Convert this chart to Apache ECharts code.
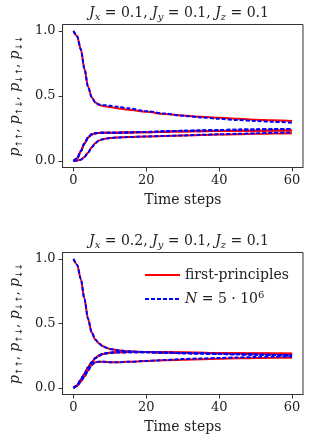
<!DOCTYPE html>
<html>
<head>
<meta charset="utf-8">
<script src="https://cdn.jsdelivr.net/npm/echarts@6/dist/echarts.min.js"></script>
<style>
html,body{margin:0;padding:0;background:#fff;}
#chart{width:311px;height:445px;}
</style>
</head>
<body>
<div id="chart"></div>
<script>
// ---- data ----
var times = [0,1,2,3,4,5,6,7,8,9,10,12,15,20,25,30,35,40,45,50,55,60];
var xTicks = [0,20,40,60];
var yTicks = [0,0.5,1.0];

// Panel 1: Jx=0.1, Jy=0.1, Jz=0.1
var p1_uu_fp  = [1.0,0.96,0.86,0.71,0.57,0.49,0.45,0.432,0.424,0.419,0.415,0.406,0.395,0.378,0.362,0.35,0.34,0.332,0.325,0.318,0.313,0.308];
var p1_ud_fp  = [0,0.02,0.075,0.135,0.18,0.205,0.213,0.216,0.217,0.217,0.217,0.218,0.22,0.222,0.225,0.227,0.229,0.231,0.232,0.233,0.234,0.235];
var p1_du_fp  = [0,0.02,0.075,0.135,0.18,0.205,0.213,0.216,0.217,0.217,0.217,0.218,0.22,0.222,0.225,0.227,0.229,0.231,0.232,0.233,0.234,0.235];
var p1_dd_fp  = [0,0.003,0.01,0.03,0.065,0.105,0.138,0.157,0.167,0.173,0.176,0.18,0.184,0.188,0.192,0.196,0.2,0.203,0.206,0.209,0.212,0.214];
var p1_uu_n   = [1.0,0.96,0.86,0.71,0.57,0.49,0.45,0.435,0.43,0.428,0.425,0.418,0.405,0.383,0.365,0.348,0.335,0.325,0.315,0.308,0.301,0.295];
var p1_ud_n   = [0,0.02,0.075,0.135,0.18,0.205,0.213,0.216,0.217,0.217,0.217,0.218,0.22,0.223,0.228,0.232,0.235,0.238,0.241,0.243,0.245,0.247];
var p1_du_n   = [0,0.02,0.075,0.135,0.18,0.205,0.213,0.216,0.217,0.217,0.217,0.218,0.22,0.223,0.228,0.232,0.235,0.238,0.241,0.243,0.245,0.247];
var p1_dd_n   = [0,0.003,0.01,0.03,0.065,0.105,0.138,0.157,0.167,0.173,0.176,0.18,0.184,0.189,0.193,0.197,0.201,0.205,0.209,0.213,0.217,0.22];

// Panel 2: Jx=0.2, Jy=0.1, Jz=0.1
var p2_uu_fp  = [1.0,0.955,0.845,0.69,0.535,0.43,0.375,0.345,0.325,0.312,0.303,0.293,0.285,0.279,0.276,0.274,0.272,0.27,0.269,0.268,0.267,0.266];
var p2_ud_fp  = [0,0.02,0.065,0.11,0.16,0.2,0.232,0.252,0.263,0.27,0.274,0.277,0.279,0.279,0.277,0.275,0.273,0.271,0.269,0.268,0.266,0.265];
var p2_du_fp  = [0,0.02,0.065,0.11,0.16,0.2,0.232,0.252,0.263,0.27,0.274,0.277,0.279,0.279,0.277,0.275,0.273,0.271,0.269,0.268,0.266,0.265];
var p2_dd_fp  = [0,0.015,0.05,0.09,0.135,0.18,0.2,0.204,0.204,0.202,0.2,0.2,0.203,0.21,0.216,0.22,0.224,0.227,0.23,0.232,0.234,0.235];
var p2_uu_n   = [1.0,0.955,0.845,0.69,0.535,0.43,0.375,0.345,0.325,0.312,0.303,0.293,0.285,0.279,0.275,0.272,0.269,0.266,0.263,0.26,0.257,0.255];
var p2_ud_n   = [0,0.02,0.065,0.11,0.16,0.2,0.232,0.252,0.263,0.27,0.274,0.277,0.278,0.277,0.274,0.27,0.267,0.264,0.261,0.259,0.256,0.252];
var p2_du_n   = [0,0.02,0.065,0.11,0.16,0.2,0.232,0.252,0.263,0.27,0.274,0.277,0.278,0.277,0.274,0.27,0.267,0.264,0.261,0.259,0.256,0.252];
var p2_dd_n   = [0,0.015,0.05,0.09,0.135,0.18,0.2,0.204,0.204,0.202,0.2,0.2,0.203,0.21,0.217,0.225,0.229,0.233,0.237,0.24,0.243,0.245];

var titles = [
  '{j|J}{s|x}{n| = 0.1, }{j|J}{s|y}{n| = 0.1, }{j|J}{s|z}{n| = 0.1}',
  '{j|J}{s|x}{n| = 0.2, }{j|J}{s|y}{n| = 0.1, }{j|J}{s|z}{n| = 0.1}'
];
var nameFP = 'first-principles';
var nameN = 'N = 5·10^6';

// ---- chart ----
var FONT = 'DejaVu Serif';
var chart = echarts.init(document.getElementById('chart'), null, {renderer:'canvas'});

function zip(vals){ return times.map(function(t,i){ return [t, vals[i]]; }); }

var richMath = {
  j: {fontFamily: FONT, fontStyle: 'italic', fontSize: 14, lineHeight: 18, color: '#222'},
  s: {fontFamily: FONT, fontStyle: 'italic', fontSize: 10, lineHeight: 10, verticalAlign: 'bottom', color: '#222'},
  n: {fontFamily: FONT, fontSize: 14, lineHeight: 18, color: '#222'}
};
var richY = {
  p: {fontFamily: FONT, fontStyle: 'italic', fontSize: 14, lineHeight: 18, color: '#222'},
  a: {fontFamily: 'DejaVu Sans', fontSize: 9, lineHeight: 10, verticalAlign: 'bottom', color: '#222'},
  c: {fontFamily: FONT, fontSize: 13, lineHeight: 18, color: '#222'}
};
var yName = '{p|p}{a|↑↑}{c|, }{p|p}{a|↑↓}{c|, }{p|p}{a|↓↑}{c|, }{p|p}{a|↓↓}';

var grids = [
  {left: 55, right: 8, top: 24.5, height: 143},
  {left: 55, right: 8, top: 252.5, height: 142}
];

var xAxes = [], yAxes = [], series = [], titleArr = [];
var panels = [
  {fp: [p1_uu_fp, p1_ud_fp, p1_du_fp, p1_dd_fp], n: [p1_uu_n, p1_ud_n, p1_du_n, p1_dd_n]},
  {fp: [p2_uu_fp, p2_ud_fp, p2_du_fp, p2_dd_fp], n: [p2_uu_n, p2_ud_n, p2_du_n, p2_dd_n]}
];

grids.forEach(function(g, gi){
  g.show = true; g.borderColor = '#333'; g.borderWidth = 1; g.backgroundColor = 'transparent';
  g.containLabel = false;
  titleArr.push({
    text: titles[gi], left: 179, top: gi === 0 ? 4 : 232, textAlign: 'center', padding: 0,
    textStyle: {rich: richMath, fontFamily: FONT, fontSize: 14, fontWeight: 'normal'}
  });
  xAxes.push({
    type: 'value', gridIndex: gi, min: -3, max: 63,
    name: 'Time steps', nameLocation: 'middle', nameGap: 26,
    nameTextStyle: {fontFamily: FONT, fontSize: 14, color: '#222'},
    axisLine: {show: true, onZero: false, lineStyle: {color: '#333', width: 1}},
    axisTick: {show: true, inside: false, length: 4, customValues: xTicks, lineStyle: {color: '#333'}},
    axisLabel: {customValues: xTicks, margin: 7, fontFamily: FONT, fontSize: 13, color: '#222'},
    splitLine: {show: false}
  });
  yAxes.push({
    type: 'value', gridIndex: gi, min: -0.05, max: 1.05,
    name: yName, nameLocation: 'middle', nameGap: 30, nameRotate: 90,
    nameTextStyle: {rich: richY},
    axisLine: {show: true, onZero: false, lineStyle: {color: '#333', width: 1}},
    axisTick: {show: true, inside: false, length: 4, customValues: yTicks, lineStyle: {color: '#333'}},
    axisLabel: {customValues: yTicks, margin: 7, fontFamily: FONT, fontSize: 13, color: '#222',
      formatter: function(v){ return v.toFixed(1); }},
    splitLine: {show: false}
  });
  panels[gi].fp.forEach(function(arr){
    series.push({
      type: 'line', name: nameFP, xAxisIndex: gi, yAxisIndex: gi, data: zip(arr),
      showSymbol: false, symbol: 'none', smooth: 0.3, smoothMonotone: 'x',
      lineStyle: {color: '#ff0000', width: 2}, itemStyle: {color: '#ff0000'}, z: 2
    });
  });
  panels[gi].n.forEach(function(arr){
    series.push({
      type: 'line', name: nameN, xAxisIndex: gi, yAxisIndex: gi, data: zip(arr),
      showSymbol: false, symbol: 'none', smooth: 0.3, smoothMonotone: 'x',
      lineStyle: {color: '#0000ff', width: 2, type: [4, 2]}, itemStyle: {color: '#0000ff'}, z: 3
    });
  });
});

chart.setOption({
  animation: false,
  backgroundColor: '#fff',
  title: titleArr,
  grid: grids,
  xAxis: xAxes,
  yAxis: yAxes,
  legend: {
    show: true,
    data: [nameFP, nameN], orient: 'vertical', left: 139, top: 263,
    itemWidth: 35, itemHeight: 14, itemGap: 8, selectedMode: false,
    itemStyle: {opacity: 0},
    formatter: function(name){
      return name === nameFP ? '{n|first-principles}' : '{i|N}{n| = 5 · 10}{sup|6}';
    },
    textStyle: {
      fontFamily: FONT, fontSize: 14, color: '#222',
      rich: {
        n: {fontFamily: FONT, fontSize: 14, lineHeight: 18, color: '#222'},
        i: {fontFamily: FONT, fontStyle: 'italic', fontSize: 14, lineHeight: 18, color: '#222'},
        sup: {fontFamily: FONT, fontSize: 10, lineHeight: 10, verticalAlign: 'top', color: '#222'}
      }
    }
  },
  series: series
});
</script>
</body>
</html>
